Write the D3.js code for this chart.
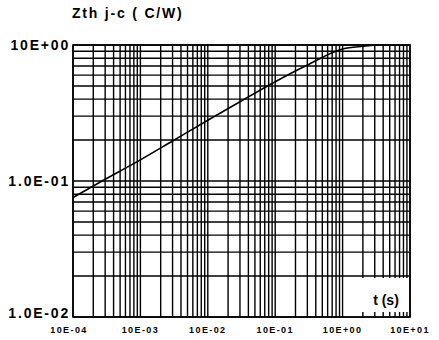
<!DOCTYPE html>
<html><head><meta charset="utf-8">
<script src="https://cdn.jsdelivr.net/npm/d3@7"></script>
<style>body{margin:0;background:#fff}svg{display:block}</style>
</head><body><svg id="c" width="439" height="340"></svg>
<script>
// ---- data ----
const timeValues = [1e-4, 3e-4, 1e-3, 3e-3, 1e-2, 3e-2, 1e-1, 3e-1, 1, 2, 3, 10];
const zthValues  = [0.0757, 0.103, 0.143, 0.197, 0.280, 0.383, 0.537, 0.713, 0.935, 0.978, 0.995, 1.0];
const xTickValues = [1e-4, 1e-3, 1e-2, 1e-1, 1, 10];
const xTickLabels = ["10E-04", "10E-03", "10E-02", "10E-01", "10E+00", "10E+01"];
const yTickValues = [1, 0.1, 0.01];
const yTickLabels = ["10E+00", "1.0E-01", "1.0E-02"];
const titleText = "Zth j-c ( C/W)";
const xAxisText = "t (s)";

// ---- layout ----
const L = 73, R = 410, T = 45, B = 317;
const svg = d3.select("#c");
const x = d3.scaleLog().domain([1e-4, 10]).range([L, R]);
const y = d3.scaleLog().domain([0.01, 1]).range([B, T]);

// grid values
const xGrid = [];
for (let d = -4; d <= 0; d++) for (let m = 1; m <= 9; m++) xGrid.push(m * Math.pow(10, d));
xGrid.push(10);
const yGrid = [];
for (let d = -2; d <= -1; d++) for (let m = 1; m <= 9; m++) yGrid.push(m * Math.pow(10, d));
yGrid.push(1);

const g = svg.append("g");
g.selectAll("line.v").data(xGrid).join("line")
  .attr("x1", d => x(d)).attr("x2", d => x(d))
  .attr("y1", T).attr("y2", B)
  .attr("stroke", "#000").attr("stroke-width", 1.4);
g.selectAll("line.h").data(yGrid).join("line")
  .attr("x1", L).attr("x2", R)
  .attr("y1", d => y(d)).attr("y2", d => y(d))
  .attr("stroke", "#000").attr("stroke-width", 1.4);

// white box for axis title
const bx0 = x(1) + 1.2, bx1 = x(10) - 1.5, by0 = y(0.02) + 2;
g.append("rect").attr("x", bx0).attr("y", by0)
  .attr("width", bx1 - bx0).attr("height", B - by0 - 0.7).attr("fill", "#fff");
const boxTicks = [];
for (let m = 2; m <= 9; m++) boxTicks.push(m);
g.selectAll("line.bt").data(boxTicks).join("line")
  .attr("x1", d => x(d)).attr("x2", d => x(d))
  .attr("y1", B - 5).attr("y2", B)
  .attr("stroke", "#000").attr("stroke-width", 1.4);

// frame
g.append("rect").attr("x", L).attr("y", T).attr("width", R - L).attr("height", B - T)
  .attr("fill", "none").attr("stroke", "#000").attr("stroke-width", 1.6);

// curve
svg.append("clipPath").attr("id", "clip").append("rect")
  .attr("x", L).attr("y", T).attr("width", R - L).attr("height", B - T);
const pts = timeValues.map((t, i) => [t, zthValues[i]]);
svg.append("path").datum(pts)
  .attr("clip-path", "url(#clip)")
  .attr("d", d3.line().x(d => x(d[0])).y(d => y(d[1])).curve(d3.curveMonotoneX))
  .attr("fill", "none").attr("stroke", "#000").attr("stroke-width", 1.6);

// labels
const font = "'Liberation Sans', Arial, sans-serif";
svg.selectAll("text.yl").data(yTickValues).join("text")
  .attr("x", 70).attr("y", (d, i) => i === 2 ? B + 1 : y(d) + 5)
  .attr("text-anchor", "end")
  .attr("font-family", font).attr("font-weight", "bold").attr("font-size", 14)
  .attr("letter-spacing", 1.8)
  .text((d, i) => yTickLabels[i]);
svg.selectAll("text.xl").data(xTickValues).join("text")
  .attr("x", (d, i) => i === 0 ? x(d) - 4 : x(d))
  .attr("y", 333)
  .attr("text-anchor", "middle")
  .attr("font-family", font).attr("font-weight", "bold").attr("font-size", 9)
  .attr("letter-spacing", 1.4)
  .text((d, i) => xTickLabels[i]);
svg.append("text").attr("x", 72).attr("y", 18)
  .attr("font-family", font).attr("font-weight", "bold").attr("font-size", 14)
  .attr("letter-spacing", 1.8)
  .text(titleText);
svg.append("text").attr("x", 386).attr("y", 305).attr("text-anchor", "middle")
  .attr("font-family", font).attr("font-weight", "bold").attr("font-size", 14)
  .text(xAxisText);
</script>
</body></html>
